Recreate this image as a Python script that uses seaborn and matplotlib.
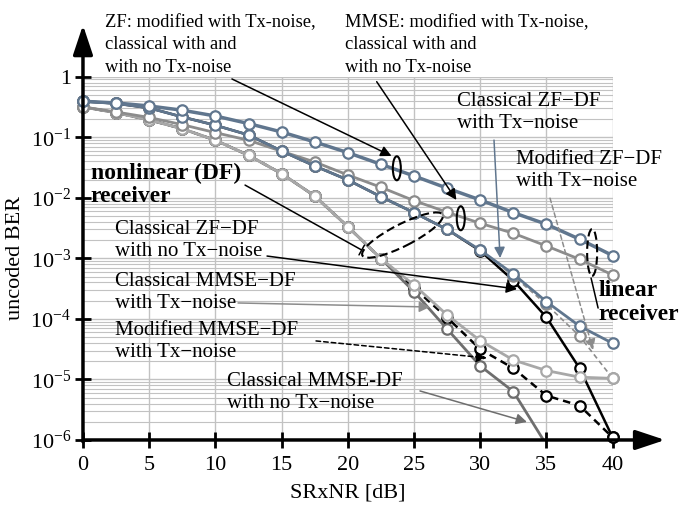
import numpy as np
import seaborn as sns
import matplotlib.pyplot as plt
from matplotlib.patches import Ellipse
from matplotlib.ticker import LogLocator, NullFormatter
from matplotlib.transforms import ScaledTranslation

# SNR grid (dB)
snr_db = [0, 2.5, 5, 7.5, 10, 12.5, 15, 17.5, 20, 22.5, 25, 27.5, 30, 32.5, 35, 37.5, 40]

# linear receivers (the three ZF / three MMSE variants coincide)
ber_zf_linear = [0.392, 0.368, 0.328, 0.279, 0.224, 0.168, 0.122, 0.0835, 0.0556, 0.0357,
                 0.0229, 0.0144, 0.0092, 0.00568, 0.00365, 0.00207, 0.00111]
ber_mmse_linear = [0.316, 0.261, 0.212, 0.161, 0.119, 0.0891, 0.0586, 0.039, 0.0238, 0.0149,
                   0.00896, 0.00578, 0.00379, 0.00259, 0.0016, 0.000965, 0.000531]

# ZF-DF receivers
ber_zfdf_cls_tx = [0.392, 0.361, 0.304, 0.216, 0.1575, 0.109, 0.0593, 0.0335, 0.0197, 0.0104,
                   0.00568, 0.0030, 0.00137, 5.5e-4, 1.92e-4, 7.6e-5, 3.95e-5]
ber_zfdf_mod_tx = [0.392, 0.361, 0.304, 0.216, 0.1575, 0.109, 0.0593, 0.0335, 0.0197, 0.0104,
                   0.00568, 0.0030, 0.00137, 5.1e-4, 1.73e-4, 5.2e-5, 1.04e-5]
ber_zfdf_cls_notx = [0.392, 0.361, 0.304, 0.216, 0.1575, 0.109, 0.0593, 0.0335, 0.0197, 0.0104,
                     0.00568, 0.0030, 0.00133, 4.3e-4, 1.06e-4, 1.53e-5, 1.1e-6]

# MMSE-DF receivers
ber_mmsedf_cls_tx = [0.316, 0.254, 0.193, 0.138, 0.0891, 0.0503, 0.025, 0.0107, 0.00333, 9.9e-4,
                     3.63e-4, 1.16e-4, 4.36e-5, 2.09e-5, 1.40e-5, 1.09e-5, 1.04e-5]
ber_mmsedf_mod_tx = [0.316, 0.254, 0.193, 0.138, 0.0891, 0.0503, 0.025, 0.0107, 0.00333, 9.9e-4,
                     3.24e-4, 1.05e-4, 3.15e-5, 1.53e-5, 5.4e-6, 3.7e-6, 1.1e-6]
ber_mmsedf_cls_notx = [0.316, 0.254, 0.193, 0.138, 0.0891, 0.0503, 0.025, 0.0107, 0.00333, 9.9e-4,
                       2.81e-4, 6.8e-5, 1.67e-5, 6.3e-6, 8.3e-7]

yticks = [1e-6, 1e-5, 1e-4, 1e-3, 1e-2, 1e-1, 1]
ytick_labels = ['$10^{-6}$', '$10^{-5}$', '$10^{-4}$', '$10^{-3}$', '$10^{-2}$', '$10^{-1}$', '1']
xticks = [0, 5, 10, 15, 20, 25, 30, 35, 40]

sns.set_theme(style="whitegrid")
plt.rcParams['font.family'] = ['Liberation Serif', 'DejaVu Serif']
plt.rcParams['mathtext.fontset'] = 'custom'
plt.rcParams['mathtext.rm'] = 'Liberation Serif'
plt.rcParams['mathtext.it'] = 'Liberation Serif:italic'
plt.rcParams['mathtext.bf'] = 'Liberation Serif:bold'

blue = '#60768e'
gray_mid = '#8c8c8c'
gray_light = '#a8a8a8'
gray_dark = '#6e6e6e'

fig = plt.figure(figsize=(6.79, 5.08), dpi=100)
ax = fig.add_axes([0.1222, 0.1339, 0.7801, 0.7152])
ax.set_facecolor('white')


def curve(y, color, lw=2.0, ls='-', clip=False, z=3, x=snr_db):
    sns.lineplot(x=x[:len(y)], y=y, ax=ax, color=color, lw=lw, linestyle=ls,
                 marker='o', markersize=7.5, markerfacecolor='white',
                 markeredgecolor=color, markeredgewidth=1.6, clip_on=clip, zorder=z)


# black curves underneath, so shared parts show grey / blue-grey
curve(ber_zfdf_cls_notx, 'black', lw=1.8, z=2.6)
curve(ber_mmsedf_mod_tx, 'black', lw=1.8, ls=(0, (3, 2)), z=2.6)
# linear
curve(ber_mmse_linear, gray_mid, lw=2.0)
curve(ber_zf_linear, blue, lw=2.5, z=3.3)
# ZF-DF
curve(ber_zfdf_mod_tx, gray_mid, lw=1.2, ls=(0, (3, 2)), z=2.8)
curve(ber_zfdf_cls_tx, blue, lw=2.0, z=3.1)
# MMSE-DF
curve(ber_mmsedf_cls_notx, gray_dark, lw=2.0, clip=True, z=2.8)
curve(ber_mmsedf_cls_tx, gray_light, lw=2.0, z=2.9)

ax.set_yscale('log')
ax.set_xlim(0, 40)
ax.set_ylim(1e-6, 1)
ax.set_xticks(xticks)
ax.set_xticklabels([str(t) for t in xticks])
ax.set_yticks(yticks)
ax.set_yticklabels(ytick_labels)
ax.yaxis.set_minor_locator(LogLocator(base=10, subs=np.arange(2, 10), numticks=100))
ax.yaxis.set_minor_formatter(NullFormatter())
ax.grid(True, which='major', color='#c2c2c2', lw=1.0)
ax.grid(True, which='minor', axis='y', color='#c2c2c2', lw=0.8)
ax.grid(False, which='minor', axis='x')
ax.tick_params(which='major', bottom=True, left=True, direction='inout', length=11, width=2,
               color='black', labelsize=16, labelcolor='black')
ax.tick_params(axis='x', pad=6)
ax.tick_params(axis='y', pad=3)
ax.tick_params(which='minor', length=0)
for s in ax.spines.values():
    s.set_visible(False)

ax.set_xlabel('SRxNR [dB]', fontsize=16, color='black', labelpad=6)
ax.set_ylabel('uncoded BER', fontsize=16, color='black', labelpad=4)

# axis arrows
ax.annotate('', xy=(1.099, 0), xytext=(0, 0), xycoords='axes fraction', annotation_clip=False,
            arrowprops=dict(arrowstyle='-|>,head_length=0.9,head_width=0.3', lw=2.5,
                            color='black', mutation_scale=20, shrinkA=0, shrinkB=0), zorder=6)
ax.annotate('', xy=(0, 1.142), xytext=(0, -0.005), xycoords='axes fraction', annotation_clip=False,
            arrowprops=dict(arrowstyle='-|>,head_length=0.9,head_width=0.3', lw=2.5,
                            color='black', mutation_scale=20, shrinkA=0, shrinkB=0), zorder=6)


def label(x, y, s, size=15, bold=False, ls=1.23):
    ax.text(x, y, s, fontsize=size, fontweight='bold' if bold else 'normal', va='top', ha='left',
            linespacing=ls, color='black', zorder=7, clip_on=False)


def pointer(start, tip, color='black', lw=1.1, ls='-', style='-|>'):
    ax.annotate('', xy=tip, xytext=start, annotation_clip=False, zorder=6,
                arrowprops=dict(arrowstyle=style, color=color, lw=lw, linestyle=ls,
                                mutation_scale=16, shrinkA=0, shrinkB=0))


def ring(x, y, w, h, angle=0, ls='-', lw=1.5):
    tr = fig.dpi_scale_trans + ScaledTranslation(x, y, ax.transData)
    ax.add_patch(Ellipse((0, 0), w, h, angle=angle, transform=tr, fill=False, ec='black',
                         lw=lw, ls=ls, clip_on=False, zorder=6))


# linear receivers
label(1.66, 10.85, 'ZF: modified with Tx-noise,\nclassical with and\nwith no Tx-noise',
      size=13.3, ls=1.42)
pointer((11.25, 0.916), (23.3, 0.049))
ring(23.7, 0.0307, 0.08, 0.24)
label(19.79, 10.85, 'MMSE: modified with Tx-noise,\nclassical with and\nwith no Tx-noise',
      size=13.3, ls=1.42)
pointer((22.18, 0.826), (28.2, 0.0092))
ring(28.53, 0.00459, 0.08, 0.24)

label(28.22, 0.557, 'Classical ZF\u2212DF\nwith Tx\u2212noise')
pointer((31.04, 0.0896), (31.5, 1.01e-3), color=blue)
label(32.7, 0.0612, 'Modified ZF\u2212DF\nwith Tx\u2212noise')
pointer((35.27, 0.00985), (38.52, 3.07e-5), color=gray_mid, ls=(0, (3, 2)))

ring(38.45, 1.25e-3, 0.10, 0.47, ls=(0, (4, 2)))
ax.plot([38.37, 38.9], [4.72e-4, 1.51e-4], color='black', lw=1.1, clip_on=False, zorder=6)
label(38.9, 4.36e-4, 'linear\nreceiver', size=17, bold=True, ls=1.2)

# nonlinear receivers
label(0.58, 0.0376, 'nonlinear (DF)\nreceiver', size=17, bold=True, ls=1.13)
pointer((12.24, 0.0162), (21.05, 1.37e-3), style='-[, widthB=0.25, lengthB=0')
ring(24.13, 0.00242, 0.90, 0.22, angle=27, ls=(0, (4, 2)))

label(2.42, 0.00427, 'Classical ZF\u2212DF\nwith no Tx\u2212noise')
pointer((13.9, 1.09e-3), (32.78, 3.11e-4))
label(2.42, 5.94e-4, 'Classical MMSE\u2212DF\nwith Tx\u2212noise')
pointer((11.71, 1.83e-4), (26.2, 1.57e-4), color=gray_mid)
label(2.42, 9.25e-5, 'Modified MMSE\u2212DF\nwith Tx\u2212noise')
pointer((17.6, 4.32e-5), (30.5, 2.26e-5), ls=(0, (3, 2)))
label(10.85, 1.33e-5, 'Classical MMSE-DF\nwith no Tx\u2212noise')
pointer((25.45, 6.45e-6), (33.53, 1.98e-6), color=gray_dark)

fig.savefig('out.png', dpi=100)
